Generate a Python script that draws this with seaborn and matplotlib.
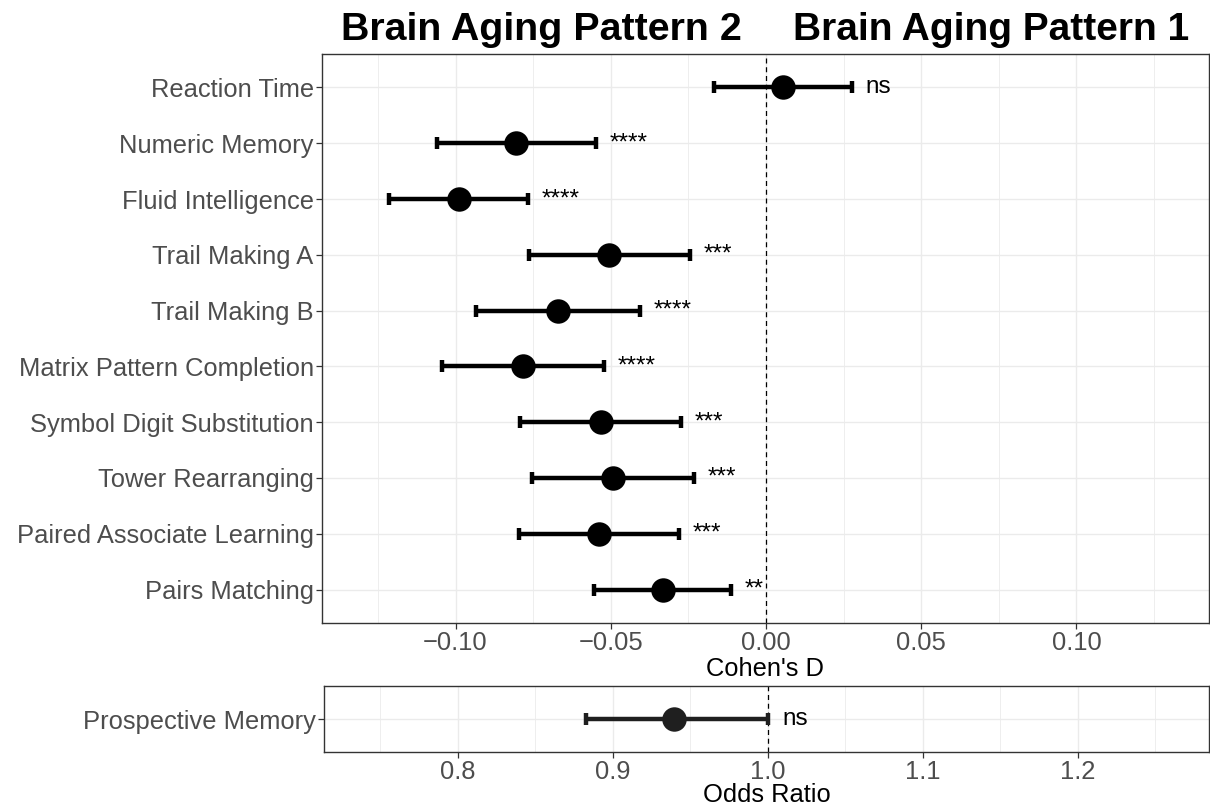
import numpy as np
import pandas as pd
import matplotlib
matplotlib.use('Agg')
import matplotlib.pyplot as plt
from matplotlib.ticker import MultipleLocator
import seaborn as sns

# Cognitive tests (Cohen's D) - top to bottom
tests = ['Reaction Time', 'Numeric Memory', 'Fluid Intelligence', 'Trail Making A',
         'Trail Making B', 'Matrix Pattern Completion', 'Symbol Digit Substitution',
         'Tower Rearranging', 'Paired Associate Learning', 'Pairs Matching']
cohen_d = [0.0055, -0.0805, -0.0989, -0.0506, -0.0670, -0.0783, -0.0531, -0.0493, -0.0538, -0.0332]
ci_low = [-0.0167, -0.1060, -0.1214, -0.0763, -0.0934, -0.1043, -0.0792, -0.0754, -0.0795, -0.0554]
ci_high = [0.0277, -0.0548, -0.0767, -0.0245, -0.0406, -0.0522, -0.0274, -0.0232, -0.0280, -0.0113]
signif = ['ns', '****', '****', '***', '****', '****', '***', '***', '***', '**']

# Prospective memory (odds ratio)
pm_label = ['Prospective Memory']
pm_or = [0.9396]
pm_low = [0.8830]
pm_high = [1.0005]
pm_signif = ['ns']

sns.set_theme(style='whitegrid')
plt.rcParams['font.family'] = ['Liberation Sans', 'DejaVu Sans']

df = pd.DataFrame({'test': tests, 'd': cohen_d, 'lo': ci_low, 'hi': ci_high, 'sig': signif})
df['pos'] = np.arange(len(df))
pm = pd.DataFrame({'test': pm_label, 'd': pm_or, 'lo': pm_low, 'hi': pm_high, 'sig': pm_signif})
pm['pos'] = np.arange(len(pm))

W, H = 1210, 809
fig = plt.figure(figsize=(W / 100, H / 100), dpi=100)
ax1 = fig.add_axes([322 / W, 1 - 623 / H, (1209 - 322) / W, (623 - 54) / H])
ax2 = fig.add_axes([324 / W, 1 - 752 / H, (1209 - 324) / W, (752 - 686) / H])

FS = 18.4


def draw_panel(ax, data, color, xlim, major, minor, ref, xlabel, offset):
    ax.axvline(ref, color='black', ls=(0, (4, 3)), lw=0.9, zorder=1)
    ax.errorbar(data['d'], data['pos'], xerr=[data['d'] - data['lo'], data['hi'] - data['d']],
                fmt='none', ecolor=color, elinewidth=3.2, capsize=4.5, capthick=3.2, zorder=3)
    sns.scatterplot(data=data, x='d', y='pos', ax=ax, s=310, color=color, linewidth=0,
                    zorder=4, legend=False)
    for _, r in data.iterrows():
        ax.text(r['hi'] + offset, r['pos'], r['sig'], fontsize=17.5, color='black',
                ha='left', va='center')
    ax.set_xlim(*xlim)
    ax.set_ylim(len(data) - 0.4, -0.6)
    ax.set_yticks(data['pos'])
    ax.set_yticklabels(data['test'])
    ax.xaxis.set_major_locator(MultipleLocator(major))
    ax.xaxis.set_minor_locator(MultipleLocator(minor))
    ax.grid(which='major', color='#EBEBEB', lw=1.0)
    ax.grid(which='minor', axis='x', color='#EBEBEB', lw=0.6)
    ax.set_axisbelow(True)
    for s in ax.spines.values():
        s.set_color('#333333')
        s.set_linewidth(1.0)
    ax.tick_params(axis='both', which='major', length=4, width=0.9, color='#333333',
                   labelsize=FS, labelcolor='#4D4D4D', pad=2, bottom=True, left=True)
    ax.tick_params(which='minor', length=0)
    ax.set_xlabel(xlabel, fontsize=FS, color='black', labelpad=1)
    ax.set_ylabel('')


draw_panel(ax1, df, 'black', (-0.143, 0.1427), 0.05, 0.025, 0.0, "Cohen's D", 0.0045)
ax1.xaxis.set_major_formatter(plt.FuncFormatter(lambda v, p: f'{v:.2f}'.replace('-', '\u2212')))
draw_panel(ax2, pm, '#1f1f1f', (0.7138, 1.2848), 0.1, 0.05, 1.0, 'Odds Ratio', 0.009)
ax2.xaxis.set_major_formatter(plt.FuncFormatter(lambda v, p: f'{v:.1f}'))
ax2.set_xticks([0.8, 0.9, 1.0, 1.1, 1.2])
ax2.xaxis.labelpad = -1

fig.text(742 / W, 1 - 40 / H, 'Brain Aging Pattern 2', fontsize=28.4, fontweight='bold',
         color='black', ha='right', va='baseline')
fig.text(793 / W, 1 - 40 / H, 'Brain Aging Pattern 1', fontsize=28, fontweight='bold',
         color='black', ha='left', va='baseline')

fig.savefig('out.png', dpi=100)
